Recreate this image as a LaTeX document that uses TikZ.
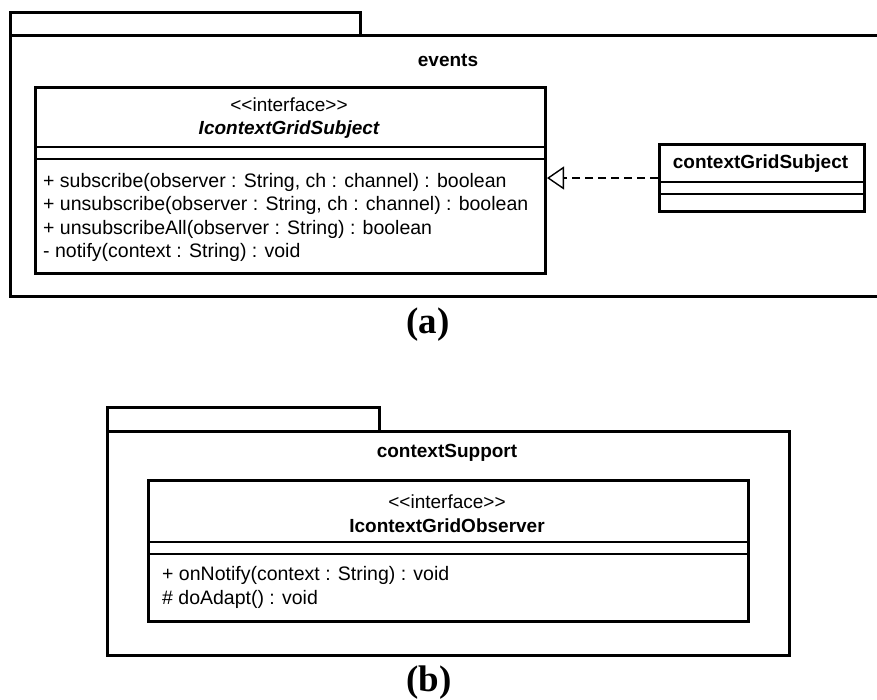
\documentclass[tikz,border=0pt]{standalone}
\usepackage{fontspec}
\setmainfont{Liberation Sans}
\newfontfamily\capfont{Liberation Serif}
\usetikzlibrary{arrows.meta}
\newcommand{\stereo}[1]{{<}{<}#1{>}{>}}
\begin{document}
\begin{tikzpicture}[x=1pt,y=-1pt,
  pkgline/.style={line width=3pt, line join=miter},
  umlbox/.style={draw, line width=3pt, inner sep=0pt, anchor=north west},
  compsep/.style={line width=1.4pt},
  umltxt/.style={inner sep=0pt, font=\fontsize{19}{23}\selectfont},
  member/.style={inner sep=0pt, anchor=west, font=\fontsize{19.5}{23}\selectfont},
  caption/.style={inner sep=0pt, font=\capfont\bfseries\fontsize{37}{40}\selectfont},
  realizes/.style={line width=1.4pt, dash pattern=on 8pt off 5pt,
    -{Triangle[open, length=17pt, width=23pt, line width=1.4pt]}}
]
\useasboundingbox (0,0) rectangle (877,699);
\clip (0,0) rectangle (877,699);

% ---------- package "events" ----------
\draw[pkgline] (10,35) -- (10,12.5) -- (360,12.5) -- (360,35);
\draw[pkgline] (890,35) -- (10,35) -- (10,296) -- (890,296);
\node[umltxt] (evname) at (448,60) {\bfseries events};

% interface IcontextGridSubject
\node[umlbox, minimum width=510pt, minimum height=186pt] (isubj) at (34,86) {};
\draw[compsep] (34,147) -- (544,147);
\draw[compsep] (34,159) -- (544,159);
\node[umltxt] (isubjst) at (289,105) {\stereo{interface}};
\node[umltxt] (isubjname) at (289,130) {\bfseries\itshape IcontextGridSubject};
\node[member] (m1) at (43,182) {+ subscribe(observer : String, ch : channel) : boolean};
\node[member] (m2) at (43,205.5) {+ unsubscribe(observer : String, ch : channel) : boolean};
\node[member] (m3) at (43,229) {+ unsubscribeAll(observer : String) : boolean};
\node[member] (m4) at (43,252.5) {- notify(context : String) : void};

% class contextGridSubject
\node[umlbox, minimum width=205pt, minimum height=67pt] (csubj) at (658,143) {};
\draw[compsep] (658,182) -- (863,182);
\draw[compsep] (658,194) -- (863,194);
\node[umltxt] (csubjname) at (760.5,164) {\bfseries contextGridSubject};

% realization
\draw[realizes] (csubj.west) -- (csubj.west -| isubj.east);

\node[caption] (capa) at (428,325) {(a)};

% ---------- package "contextSupport" ----------
\draw[pkgline] (107,431) -- (107,407) -- (379,407) -- (379,431);
\draw[pkgline] (107,431) rectangle (789,655);
\node[umltxt] (csname) at (447,453) {\bfseries contextSupport};

% interface IcontextGridObserver
\node[umlbox, minimum width=600pt, minimum height=141pt] (iobs) at (147,479) {};
\draw[compsep] (147,542) -- (747,542);
\draw[compsep] (147,554) -- (747,554);
\node[umltxt] (iobsst) at (447,502) {\stereo{interface}};
\node[umltxt] (iobsname) at (447,526) {\bfseries IcontextGridObserver};
\node[member] (o1) at (162,575) {+ onNotify(context : String) : void};
\node[member] (o2) at (162,599) {\# doAdapt() : void};

\node[caption] (capb) at (429,683) {(b)};
\end{tikzpicture}
\end{document}
